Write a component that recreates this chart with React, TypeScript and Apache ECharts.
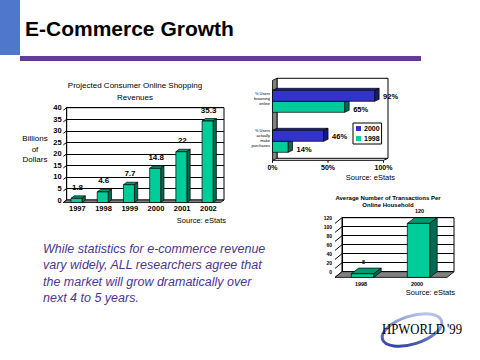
import React, { useEffect, useRef } from "react";
import * as echarts from "echarts";

// ---------- data ----------
const revenueYears = ["1997", "1998", "1999", "2000", "2001", "2002"];
const revenueValues = [1.8, 4.6, 7.7, 14.8, 22, 35.3];
const revenueTicks = [0, 5, 10, 15, 20, 25, 30, 35, 40];

const usageCategories = ["% Users\nbrowsing\nonline", "% Users\nactually\nmake\npurchases"];
const usage2000 = [92, 46];
const usage1998 = [65, 14];
const usageTicks = [0, 50, 100];

const txnYears = ["1998", "2000"];
const txnValues = [8, 120];
const txnTicks = [0, 20, 40, 60, 80, 100, 120];

const bodyLines = [
  "While statistics for e-commerce revenue",
  "vary widely, ALL researchers agree that",
  "the market will grow dramatically over",
  "next 4 to 5 years.",
];

// ---------- style ----------
const FONT = "'Liberation Sans', Arial, sans-serif";
const GREEN = "#00cc99";
const GREEN_SIDE = "#006b4f";
const GREEN_TOP = "#00996f";
const BLUE = "#3333cc";
const BLUE_SIDE = "#1a1a70";
const BLUE_TOP = "#2828a0";
const GRAY = "#808080";

function vBar(dx: number, dy: number, ratio: number, fontSize: number, gap: number) {
  return (params: any, api: any) => {
    const idx = api.value(0);
    const v = api.value(1);
    const b = api.coord([idx, 0]);
    const t = api.coord([idx, v]);
    const band = api.size([1, 0])[0];
    const w = band * ratio;
    const bx0 = b[0] - w / 2;
    const bx1 = b[0] + w / 2;
    const yB = b[1];
    const yT = t[1];
    const fx0 = bx0 - dx;
    const fx1 = bx1 - dx;
    const fyB = yB + dy;
    const fyT = yT + dy;
    const st = { stroke: "#000", lineWidth: 0.7 };
    return {
      type: "group",
      children: [
        { type: "polygon", shape: { points: [[fx0, fyT], [bx0, yT], [bx1, yT], [fx1, fyT]] }, style: { fill: GREEN_TOP, ...st } },
        { type: "polygon", shape: { points: [[fx1, fyT], [bx1, yT], [bx1, yB], [fx1, fyB]] }, style: { fill: GREEN_SIDE, ...st } },
        { type: "rect", shape: { x: fx0, y: fyT, width: w, height: fyB - fyT }, style: { fill: GREEN, ...st } },
        {
          type: "text",
          x: fx0 + w / 2 + 1,
          y: yT - gap,
          style: { text: String(v), fill: "#000", fontSize, fontFamily: FONT, fontWeight: "bold", align: "center", verticalAlign: "middle" },
        },
      ],
    };
  };
}

function vWalls(dx: number, dy: number, ticks: number[]) {
  return (params: any, api: any) => {
    const cs = params.coordSys;
    const x0 = cs.x;
    const x1 = cs.x + cs.width;
    const yB = cs.y + cs.height;
    const children: any[] = [];
    ticks.forEach((v) => {
      const y = api.coord([0, v])[1];
      children.push({ type: "line", shape: { x1: x0, y1: y, x2: x0 - dx, y2: y + dy }, style: { stroke: "#000", lineWidth: 1 } });
    });
    children.push({
      type: "polygon",
      shape: { points: [[x0, yB], [x1, yB], [x1 - dx, yB + dy], [x0 - dx, yB + dy]] },
      style: { fill: GRAY, stroke: "#000", lineWidth: 0.8 },
    });
    return { type: "group", children };
  };
}

function hWalls(dx: number, dy: number, ticks: number[]) {
  return (params: any, api: any) => {
    const cs = params.coordSys;
    const x0 = cs.x;
    const x1 = cs.x + cs.width;
    const yT = cs.y;
    const yB = cs.y + cs.height;
    const children: any[] = [
      {
        type: "polygon",
        shape: { points: [[x0, yT], [x0, yB], [x0 - dx, yB + dy], [x0 - dx, yT + dy]] },
        style: { fill: GRAY, stroke: "#000", lineWidth: 0.8 },
      },
      { type: "line", shape: { x1: x0 - dx, y1: yB + dy, x2: x1 - dx, y2: yB + dy }, style: { stroke: "#000", lineWidth: 1 } },
      { type: "line", shape: { x1: x1 - dx, y1: yB + dy, x2: x1, y2: yB }, style: { stroke: "#000", lineWidth: 1 } },
    ];
    ticks.forEach((v) => {
      const x = api.coord([v, 0])[0] - dx;
      children.push({ type: "line", shape: { x1: x, y1: yB + dy, x2: x, y2: yB + dy + 2.5 }, style: { stroke: "#000", lineWidth: 1 } });
    });
    return { type: "group", children };
  };
}

function hBar(slot: number, front: string, side: string, top: string, labelDy: number, dx: number, dy: number) {
  return (params: any, api: any) => {
    const v = api.value(0);
    const idx = api.value(1);
    const b = api.coord([0, idx]);
    const e = api.coord([v, idx]);
    const band = api.size([0, 1])[1];
    const h = band * 0.275;
    const c = b[1] + 1;
    const by0 = slot === 0 ? c - h : c;
    const by1 = by0 + h;
    const x0 = b[0];
    const xv = e[0];
    const fx0 = x0 - dx;
    const fx1 = xv - dx;
    const fy0 = by0 + dy;
    const fy1 = by1 + dy;
    const st = { stroke: "#000", lineWidth: 0.7 };
    return {
      type: "group",
      children: [
        { type: "polygon", shape: { points: [[fx0, fy0], [x0, by0], [xv, by0], [fx1, fy0]] }, style: { fill: top, ...st } },
        { type: "polygon", shape: { points: [[fx1, fy0], [xv, by0], [xv, by1], [fx1, fy1]] }, style: { fill: side, ...st } },
        { type: "rect", shape: { x: fx0, y: fy0, width: fx1 - fx0, height: h }, style: { fill: front, ...st } },
        {
          type: "text",
          x: xv + 4,
          y: (fy0 + fy1) / 2 + labelDy,
          style: { text: v + "%", fill: "#000", fontSize: 7.5, fontFamily: FONT, fontWeight: "bold", align: "left", verticalAlign: "middle" },
        },
      ],
    };
  };
}

const txt = (x: number, y: number, text: string, extra: any = {}) => ({
  type: "text",
  x,
  y,
  style: { text, fill: "#000", fontFamily: FONT, fontSize: 8, align: "center", verticalAlign: "middle", ...extra },
});

export default function App() {
  const ref = useRef<HTMLDivElement>(null);
  useEffect(() => {
    if (!ref.current) return;
    const chart = echarts.init(ref.current, undefined, { renderer: "svg" });
    const gridBorder = { show: true, borderColor: "#000", borderWidth: 1, backgroundColor: "transparent" };
    const option: any = {
      animation: false,
      backgroundColor: "#fff",
      grid: [
        { left: 66.7, top: 107.7, width: 157.3, height: 92.3, ...gridBorder },
        { left: 277, top: 78.3, width: 111, height: 80, ...gridBorder },
        { left: 342, top: 217.7, width: 112, height: 54, ...gridBorder },
      ],
      xAxis: [
        {
          type: "category",
          gridIndex: 0,
          data: revenueYears,
          axisLine: { show: false },
          axisTick: { show: false },
          axisLabel: { fontSize: 7.5, fontFamily: FONT, fontWeight: "bold", color: "#000", margin: 4, padding: [0, 5, 0, 0] },
        },
        {
          type: "value",
          gridIndex: 1,
          min: 0,
          max: 100,
          interval: 50,
          splitLine: { show: false },
          axisLine: { show: false },
          axisTick: { show: false },
          axisLabel: { formatter: "{value}%", fontSize: 7, fontFamily: FONT, fontWeight: "bold", color: "#000", margin: 6, padding: [0, 9, 0, 0] },
        },
        {
          type: "category",
          gridIndex: 2,
          data: txnYears,
          axisLine: { show: false },
          axisTick: { show: false },
          axisLabel: { fontSize: 5.5, fontFamily: FONT, fontWeight: "bold", color: "#000", margin: 9, padding: [0, 18, 0, 0] },
        },
      ],
      yAxis: [
        {
          type: "value",
          gridIndex: 0,
          min: 0,
          max: 40,
          interval: 5,
          splitLine: { show: true, lineStyle: { color: "#000", width: 1 } },
          axisLine: { show: true, lineStyle: { color: "#000" } },
          axisTick: { show: false },
          axisLabel: { fontSize: 7.5, fontFamily: FONT, fontWeight: "bold", color: "#000", margin: 5 },
        },
        {
          type: "category",
          gridIndex: 1,
          data: usageCategories,
          inverse: true,
          axisLine: { show: false },
          axisTick: { show: false },
          axisLabel: { fontSize: 4, lineHeight: 5, fontFamily: FONT, color: "#000", margin: 7 },
        },
        {
          type: "value",
          gridIndex: 2,
          min: 0,
          max: 120,
          interval: 20,
          splitLine: { show: true, lineStyle: { color: "#000", width: 1 } },
          axisLine: { show: true, lineStyle: { color: "#000" } },
          axisTick: { show: false },
          axisLabel: { fontSize: 5, fontFamily: FONT, fontWeight: "bold", color: "#000", margin: 10, padding: [7, 0, 0, 0] },
        },
      ],
      legend: {
        data: ["2000", "1998"],
        orient: "vertical",
        left: 353,
        top: 123,
        borderColor: "#000",
        borderWidth: 1,
        padding: [2, 2, 2, 3],
        itemWidth: 5,
        itemHeight: 5,
        itemGap: 3,
        icon: "rect",
        textStyle: { fontSize: 7, fontFamily: FONT, fontWeight: "bold", color: "#000", padding: [0, 0, 0, -2] },
      },
      series: [
        { type: "custom", name: "walls1", xAxisIndex: 0, yAxisIndex: 0, z: 1, renderItem: vWalls(3.3, 2.5, revenueTicks), data: [[0, 0]] },
        {
          type: "custom",
          name: "Revenue",
          xAxisIndex: 0,
          yAxisIndex: 0,
          z: 2,
          itemStyle: { color: GREEN },
          renderItem: vBar(3.3, 2.5, 0.42, 8, 8.5),
          data: revenueValues.map((v, i) => [i, v]),
        },
        { type: "custom", name: "walls2", xAxisIndex: 1, yAxisIndex: 1, z: 1, renderItem: hWalls(4.5, 2, usageTicks), data: [[0, 0]] },
        {
          type: "custom",
          name: "1998",
          xAxisIndex: 1,
          yAxisIndex: 1,
          z: 2,
          itemStyle: { color: GREEN },
          renderItem: hBar(1, GREEN, GREEN_SIDE, GREEN_TOP, 3, 4.5, 2),
          data: usage1998.map((v, i) => [v, i]),
        },
        {
          type: "custom",
          name: "2000",
          xAxisIndex: 1,
          yAxisIndex: 1,
          z: 3,
          itemStyle: { color: BLUE },
          renderItem: hBar(0, BLUE, BLUE_SIDE, BLUE_TOP, 1, 4.5, 2),
          data: usage2000.map((v, i) => [v, i]),
        },
        { type: "custom", name: "walls3", xAxisIndex: 2, yAxisIndex: 2, z: 1, renderItem: vWalls(7, 5.7, txnTicks), data: [[0, 0]] },
        {
          type: "custom",
          name: "Transactions",
          xAxisIndex: 2,
          yAxisIndex: 2,
          z: 2,
          itemStyle: { color: GREEN },
          renderItem: vBar(7.5, 5.7, 0.4, 5.5, 6.5),
          data: txnValues.map((v, i) => [i, v]),
        },
      ],
      graphic: [
        { type: "rect", shape: { x: 0, y: 0, width: 20, height: 55 }, style: { fill: "#4f77cc" } },
        { type: "rect", shape: { x: 20, y: 56, width: 401, height: 5 }, style: { fill: "#653b99" } },
        txt(25, 28, "E-Commerce Growth", { fontSize: 21, fontWeight: "bold", align: "left" }),
        txt(135, 85, "Projected Consumer Online Shopping"),
        txt(135, 97.7, "Revenues"),
        txt(35, 138, "Billions"),
        txt(35, 149, "of"),
        txt(35, 159, "Dollars"),
        txt(226, 220, "Source: eStats", { align: "right", fontSize: 7.5 }),
        txt(395, 177, "Source: eStats", { align: "right", fontSize: 7.5 }),
        txt(388, 198, "Average Number of Transactions Per", { fontSize: 6, fontWeight: "bold" }),
        txt(388, 204.5, "Online Household", { fontSize: 6, fontWeight: "bold" }),
        txt(455, 292, "Source: eStats", { align: "right", fontSize: 7.5 }),
        ...bodyLines.map((l, i) =>
          txt(43, 249 + 16.3 * i, l, { align: "left", fontSize: 12.5, fontStyle: "italic", fill: "#4b3592" })
        ),
        {
          type: "ellipse",
          x: 412,
          y: 330,
          rotation: 0.3,
          shape: { cx: 0, cy: 0, rx: 31, ry: 14 },
          style: {
            fill: "none",
            lineWidth: 3,
            stroke: new echarts.graphic.LinearGradient(0, 1, 1, 0, [
              { offset: 0, color: "#1b2d9c" },
              { offset: 1, color: "#d4dcf5" },
            ]),
          },
        },
        {
          type: "text",
          x: 382,
          y: 329.5,
          scaleX: 0.85,
          style: { text: "HPWORLD", fill: "#000", fontFamily: "'Liberation Serif', 'Times New Roman', serif", fontSize: 15, verticalAlign: "middle", align: "left" },
        },
        {
          type: "text",
          x: 447,
          y: 329.5,
          scaleX: 0.85,
          style: { text: "'99", fill: "#000", fontFamily: "'Liberation Serif', 'Times New Roman', serif", fontSize: 15, verticalAlign: "middle", align: "left" },
        },
      ],
    };
    chart.setOption(option);
    return () => chart.dispose();
  }, []);
  return <div ref={ref} style={{ position: "absolute", left: 0, top: 0, width: 480, height: 360 }} />;
}
